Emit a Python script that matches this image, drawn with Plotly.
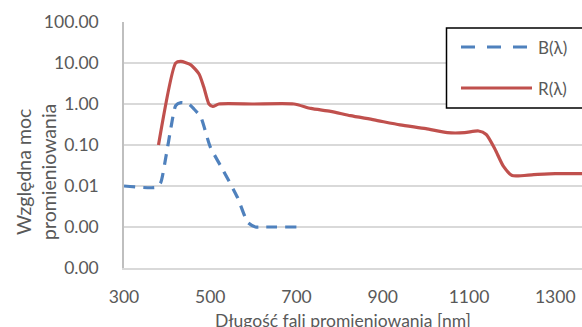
import plotly.graph_objects as go

# Data
b_x = [300, 375, 385, 397, 409, 420, 432, 450, 462, 478, 500, 530, 563, 587, 605, 620, 700]
b_y = [0.01, 0.0093, 0.012, 0.05, 0.27, 0.92, 1.08, 1.0, 0.76, 0.48, 0.09, 0.024, 0.0053, 0.0013, 0.001, 0.001, 0.001]

r_x = [380, 420, 432, 455, 474, 485, 497, 506, 520, 600, 694, 733, 779, 825, 880, 940, 1000, 1050, 1090, 1122, 1140, 1160, 1180, 1200, 1250, 1300, 1370]
r_y = [0.1, 10.0, 10.9, 9.0, 5.4, 2.6, 1.0, 0.87, 1.0, 1.0, 1.0, 0.78, 0.66, 0.52, 0.41, 0.31, 0.25, 0.2, 0.2, 0.22, 0.18, 0.08, 0.03, 0.018, 0.019, 0.02, 0.02]

series_names = ["B(λ)", "R(λ)"]
series_colors = ["#4F81BD", "#C0504D"]
series_dash = ["11px,8px", "solid"]

y_tickvals = [0.0001, 0.001, 0.01, 0.1, 1, 10, 100]
y_ticktext = ["0.00", "0.00", "0.01", "0.10", "1.00", "10.00", "100.00"]
x_tickvals = [300, 500, 700, 900, 1100, 1300]

FONT = "Lato"
GREY = "#595959"
W, H = 582, 327
L, R, T, B = 124, 0, 22, 59
PW, PH = W - L - R, H - T - B

def px(x):
    return (x - L) / PW

def py(y):
    return (H - B - y) / PH

fig = go.Figure()
for xs, ys, n, c, d in [(b_x, b_y, series_names[0], series_colors[0], series_dash[0]),
                        (r_x, r_y, series_names[1], series_colors[1], series_dash[1])]:
    fig.add_trace(go.Scatter(x=xs, y=ys, name=n, mode="lines", showlegend=False,
                             line=dict(color=c, width=3.2, dash=d, shape="spline", smoothing=0.6)))

shapes = [dict(type="rect", xref="paper", yref="paper", x0=px(446.5), x1=px(640), y0=py(108), y1=py(28),
               line=dict(color="black", width=1.5), fillcolor="white", layer="above")]
annotations = []
for i, (n, c, d) in enumerate(zip(series_names, series_colors, series_dash)):
    yy = 47 + 41 * i
    shapes.append(dict(type="line", xref="paper", yref="paper", x0=px(461), x1=px(532), y0=py(yy), y1=py(yy),
                       line=dict(color=c, width=3.2, dash="14px,12px" if d != "solid" else "solid"), layer="above"))
    annotations.append(dict(text=n, xref="paper", yref="paper", x=px(536), y=py(yy), xanchor="left",
                            yanchor="middle", showarrow=False, font=dict(size=17, color=GREY, family=FONT)))

annotations.append(dict(text="Względna moc<br>promieniowania", xref="paper", yref="paper",
                        x=px(36), y=py(172), xanchor="center", yanchor="middle", textangle=-90,
                        showarrow=False, font=dict(size=19.5, color=GREY, family=FONT)))
annotations.append(dict(text="Długość fali promieniowania [nm]", xref="paper", yref="paper",
                        x=px(343), y=py(320), xanchor="center", yanchor="middle",
                        showarrow=False, font=dict(size=17.5, color=GREY, family=FONT)))

fig.update_layout(
    width=W, height=H,
    margin=dict(l=L, r=R, t=T, b=B),
    paper_bgcolor="white", plot_bgcolor="white",
    font=dict(family=FONT, color=GREY, size=15),
    showlegend=False,
    shapes=shapes, annotations=annotations,
    xaxis=dict(range=[300, 1362], tickvals=x_tickvals, ticks="",
               showgrid=False, showline=True, linecolor="#d9d9d9", linewidth=1.5,
               ticklabelstandoff=12, tickfont=dict(size=17.5), automargin=False,
               zeroline=False),
    yaxis=dict(type="log", range=[-4, 2], tickvals=y_tickvals, ticktext=y_ticktext, ticks="",
               showgrid=True, gridcolor="#d9d9d9", gridwidth=1.5,
               showline=True, linecolor="#bfbfbf", linewidth=1.5,
               ticklabelstandoff=20, tickfont=dict(size=17.5), automargin=False,
               zeroline=False),
)

fig.write_html("out.html", config={"displayModeBar": False},
               post_script="document.body.style.margin='0';document.body.style.padding='0';")
